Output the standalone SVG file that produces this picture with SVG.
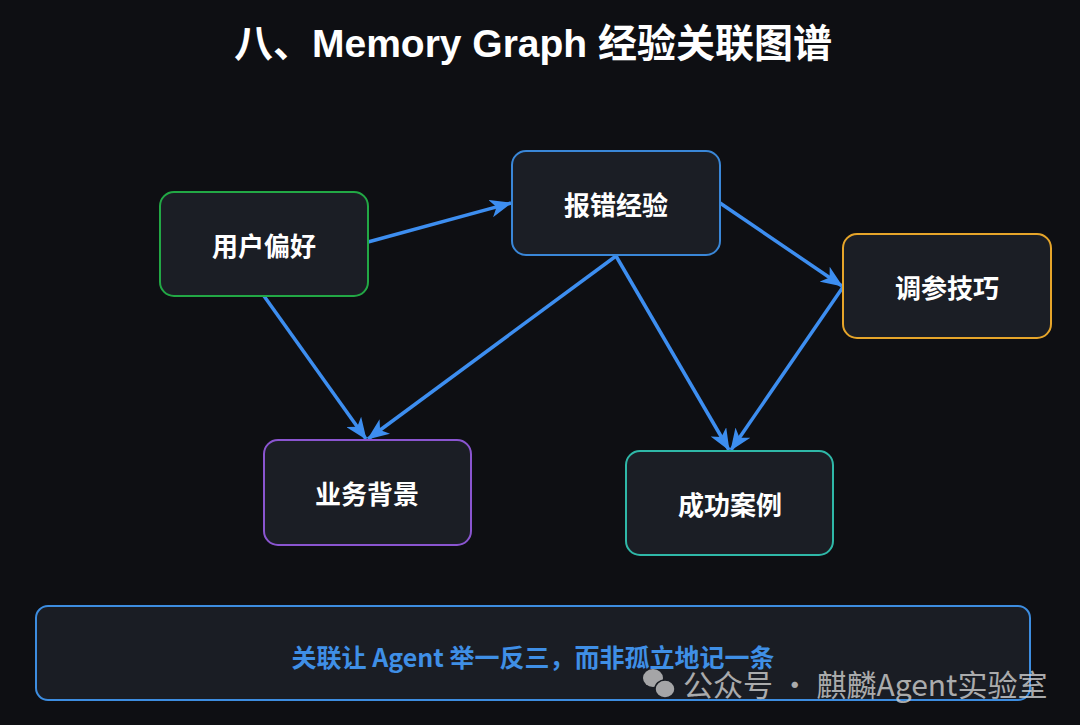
<svg xmlns="http://www.w3.org/2000/svg" width="1080" height="725" viewBox="0 0 1080 725">
<defs>
<style>
.node rect{fill:#1b1e25;stroke-width:2}
.node text{font-family:"Noto Sans CJK SC","Liberation Sans",sans-serif;font-weight:700;font-size:26px;fill:#ffffff;text-anchor:middle;dominant-baseline:central}
.edge{stroke:#3d8ef0;stroke-width:3.5;fill:none;marker-end:url(#arr)}
</style>
<marker id="arr" viewBox="0 0 22 18" refX="21" refY="9" markerWidth="22" markerHeight="18" markerUnits="userSpaceOnUse" orient="auto">
<path d="M0,0 L22,9 L0,18 L6,9 z" fill="#3d8ef0"/>
</marker>
</defs>
<rect width="1080" height="725" fill="#0e0f13"/>
<text x="533" y="57" font-family="Liberation Sans,'Noto Sans CJK SC',sans-serif" font-weight="700" font-size="39" fill="#ffffff" text-anchor="middle">八、Memory Graph 经验关联图谱</text>
<g id="connectors">
<line class="edge" x1="368" y1="242" x2="511" y2="203"/>
<line class="edge" x1="264" y1="296" x2="366" y2="439"/>
<line class="edge" x1="616" y1="256" x2="368" y2="439"/>
<line class="edge" x1="616" y1="256" x2="729" y2="450"/>
<line class="edge" x1="720" y1="203" x2="842" y2="286"/>
<line class="edge" x1="843" y1="287" x2="731" y2="450"/>
</g>
<g id="node-user" class="node"><rect x="160" y="192" width="208" height="104" rx="14" stroke="#22a845"/><text x="264" y="244">用户偏好</text></g>
<g id="node-error" class="node"><rect x="512" y="151" width="208" height="104" rx="14" stroke="#3a87d8"/><text x="616" y="203">报错经验</text></g>
<g id="node-tune" class="node"><rect x="843" y="234" width="208" height="104" rx="14" stroke="#e6a52a"/><text x="947" y="286">调参技巧</text></g>
<g id="node-biz" class="node"><rect x="264" y="440" width="207" height="105" rx="14" stroke="#8a55d0"/><text x="367" y="492">业务背景</text></g>
<g id="node-success" class="node"><rect x="626" y="451" width="207" height="104" rx="14" stroke="#2fb8a8"/><text x="730" y="503">成功案例</text></g>
<g id="note">
<rect x="36" y="606" width="994" height="94" rx="12" fill="#1a1d24" stroke="#3d8de0" stroke-width="2"/>
<text x="533" y="656" font-family="'Noto Sans CJK SC','Liberation Sans',sans-serif" font-weight="700" font-size="25" fill="#3f8fe6" text-anchor="middle" dominant-baseline="central">关联让 Agent 举一反三，而非孤立地记一条</text>
</g>
<g id="watermark" opacity="0.8">
<ellipse cx="653" cy="678" rx="10" ry="9" fill="#c8c8c8"/>
<ellipse cx="665" cy="689" rx="10" ry="9" fill="#c8c8c8" stroke="#1a1d24" stroke-width="1.5"/>
<text x="683" y="683" font-family="'Noto Sans CJK SC',sans-serif" font-size="30" fill="#cfcfcf" dominant-baseline="central">公众号 · 麒麟Agent实验室</text>
</g>
</svg>
